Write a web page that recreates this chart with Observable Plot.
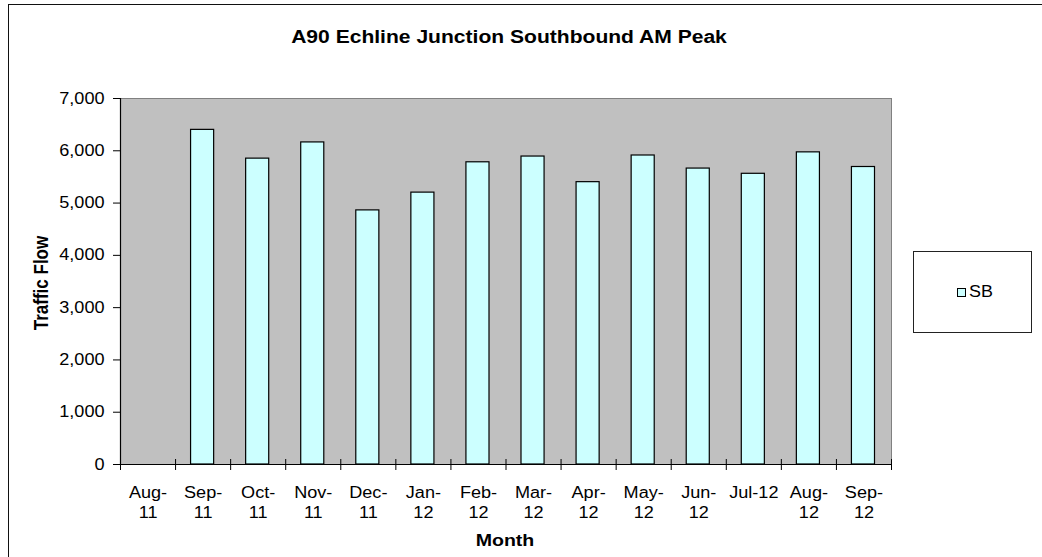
<!DOCTYPE html>
<html>
<head>
<meta charset="utf-8">
<script src="https://cdn.jsdelivr.net/npm/d3@7"></script>
<script src="https://cdn.jsdelivr.net/npm/@observablehq/plot@0.6"></script>
<style>
  html, body { margin: 0; padding: 0; background: #fff; }
  #wrap { position: relative; width: 1042px; height: 557px; overflow: hidden; font-family: "Liberation Sans", Arial, sans-serif; color: #000; }
  #border { position: absolute; left: 8px; top: 4px; width: 1200px; height: 700px; border-left: 1.5px solid #111; border-top: 1.5px solid #111; }
  #chart { position: absolute; left: 0; top: 0; }
  .title { position: absolute; left: 509px; top: 37px; font-size: 18px; font-weight: bold; white-space: nowrap; transform: translate(-50%, -50%) scaleX(1.17); }
  .xtitle { position: absolute; left: 505px; top: 541px; font-size: 17px; font-weight: bold; white-space: nowrap; transform: translate(-50%, -50%) scaleX(1.15); }
  .ytitle { position: absolute; left: 42px; top: 283px; font-size: 17px; font-weight: bold; white-space: nowrap; transform: translate(-50%, -50%) rotate(-90deg) scaleY(1.15); }
  #legend { position: absolute; left: 913px; top: 251px; width: 119px; height: 82px; border: 1px solid #222; background: #fff; box-sizing: border-box; }
  #legend .sw { position: absolute; left: 43px; top: 36px; width: 9px; height: 9px; border: 1px solid #000; background: #CCFFFF; box-sizing: border-box; }
  #legend .lb { position: absolute; left: 55px; top: 31px; font-size: 16px; line-height: 18px; transform: scaleX(1.12); transform-origin: left center; }
</style>
</head>
<body>
<div id="wrap">
  <div id="border"></div>
  <div id="chart"></div>
  <div class="title">A90 Echline Junction Southbound AM Peak</div>
  <div class="xtitle">Month</div>
  <div class="ytitle">Traffic Flow</div>
  <div id="legend"><div class="sw"></div><div class="lb">SB</div></div>
</div>
<script>
const months = ["Aug-11","Sep-11","Oct-11","Nov-11","Dec-11","Jan-12","Feb-12","Mar-12","Apr-12","May-12","Jun-12","Jul-12","Aug-12","Sep-12"];
const tickLabels = ["Aug-\n11","Sep-\n11","Oct-\n11","Nov-\n11","Dec-\n11","Jan-\n12","Feb-\n12","Mar-\n12","Apr-\n12","May-\n12","Jun-\n12","Jul-12","Aug-\n12","Sep-\n12"];
const sbValues = [null, 6400, 5850, 6160, 4860, 5200, 5780, 5890, 5400, 5910, 5660, 5560, 5970, 5690];
const yTicks = [0, 1000, 2000, 3000, 4000, 5000, 6000, 7000];
const seriesName = "SB";

const table = months.map((m, i) => ({i, month: m, value: sbValues[i]})).filter(d => d.value != null);
const boundaries = d3.range(0, months.length + 1);
const centers = months.map((m, i) => i + 0.5);

const chart = Plot.plot({
  width: 1042,
  height: 557,
  marginLeft: 120,
  marginRight: 151,
  marginTop: 98,
  marginBottom: 93,
  style: {fontFamily: "'Liberation Sans', Arial, sans-serif", fontSize: "16px", color: "#000", background: "transparent"},
  x: {domain: [0, months.length], axis: null},
  y: {domain: [0, 7000], axis: null},
  marks: [
    Plot.frame({fill: "#C0C0C0", stroke: "#808080"}),
    Plot.rectY(table, {x1: "i", x2: d => d.i + 1, y: "value", fill: "#CCFFFF", stroke: "#000", strokeWidth: 1.2, insetLeft: 15.5, insetRight: 16.5, title: d => `${d.month}: ${d.value}`}),
    Plot.ruleX([0], {stroke: "#000", strokeWidth: 1.2}),
    Plot.ruleY([0], {stroke: "#000", strokeWidth: 1.2}),
    Plot.ruleX(boundaries, {y1: 0, y2: 0, insetTop: -5, insetBottom: -6, stroke: "#000"}),
    Plot.axisY({ticks: yTicks, tickFormat: d3.format(","), tickSize: 7, tickPadding: 9, label: null, stroke: "#000"}),
    Plot.axisX({ticks: centers, tickSize: 0, tickPadding: 19, tickFormat: d => tickLabels[Math.floor(d)], lineHeight: 1.25, label: null})
  ]
});
document.getElementById("chart").appendChild(chart);

// horizontal stretch of text to mimic the reference rendering
function stretch(root, k) {
  root.querySelectorAll("text").forEach(t => {
    const spans = t.querySelectorAll("tspan");
    const els = spans.length ? Array.from(spans) : [t];
    els.forEach(e => {
      const L = e.getComputedTextLength();
      if (L > 0) { e.setAttribute("textLength", L * k); e.setAttribute("lengthAdjust", "spacingAndGlyphs"); }
    });
  });
}
stretch(chart, 1.13);
</script>
</body>
</html>
